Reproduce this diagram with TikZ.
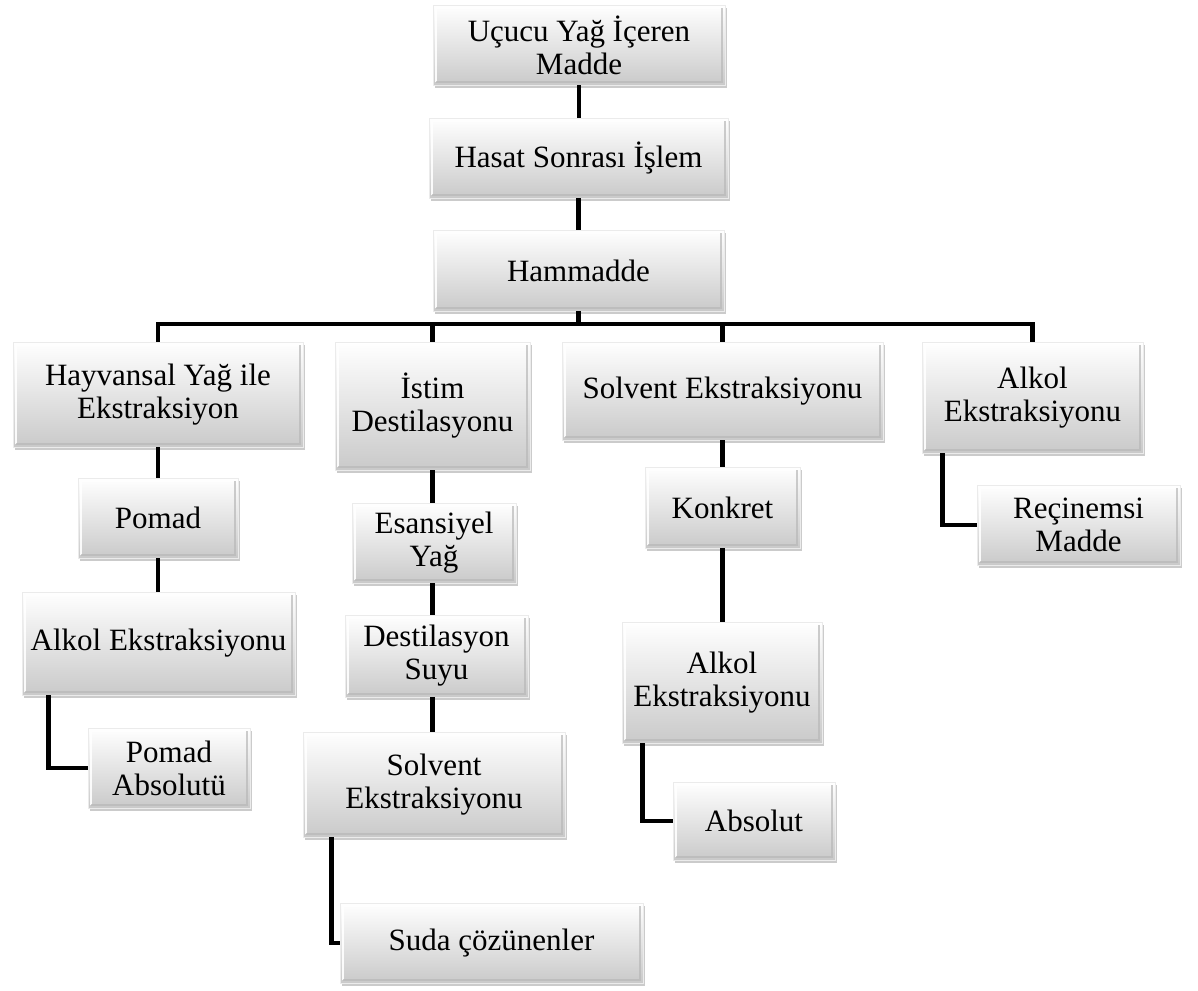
\documentclass[tikz,border=0pt]{standalone}
\usepackage{fontspec}
\setmainfont{Liberation Serif}
\usetikzlibrary{shadows}
\begin{document}
\begin{tikzpicture}[x=1pt,y=-1pt,
  box/.style={rectangle, inner sep=0pt, align=center,
    top color=white, bottom color=black!21,
    draw=black!8, line width=0.6pt,
    drop shadow={shadow xshift=2pt, shadow yshift=-3pt, fill=black!45, opacity=0.45},
    font=\fontsize{31}{33}\selectfont,
    path picture={
      \draw[white, line width=2.5pt, opacity=0.9]
        ([xshift=3pt,yshift=3pt]path picture bounding box.south west) |-
        ([xshift=-3pt,yshift=-3pt]path picture bounding box.north east);
      \draw[black!28, line width=2.5pt, opacity=0.7]
        ([xshift=3pt,yshift=3pt]path picture bounding box.south west) -|
        ([xshift=-3pt,yshift=-3pt]path picture bounding box.north east);
    }},
  conn/.style={line width=4.5pt, black}]
\fill[white] (0,0) rectangle (1198,990);
\useasboundingbox (0,0) rectangle (1198,990);

% top trunk
\node[box, minimum width=292pt, minimum height=80pt] (top) at (579,45) {Uçucu Yağ İçeren\\Madde};
\node[box, minimum width=299pt, minimum height=80pt] (hasat) at (578.5,158) {Hasat Sonrası İşlem};
\node[box, minimum width=291pt, minimum height=81pt] (ham) at (578.5,270.5) {Hammadde};

% level 2
\node[box, minimum width=290pt, minimum height=105pt] (hay) at (158,394.5) {Hayvansal Yağ ile\\Ekstraksiyon};
\node[box, minimum width=195pt, minimum height=128pt] (istim) at (432.5,406) {İstim\\Destilasyonu};
\node[box, minimum width=321pt, minimum height=98pt] (solv) at (722.5,391) {Solvent Ekstraksiyonu};
\node[box, minimum width=221pt, minimum height=111pt] (alk) at (1032.5,397.5) {Alkol\\Ekstraksiyonu};

% Hayvansal column
\node[box, minimum width=160pt, minimum height=80pt] (pomad) at (158,518) {Pomad};
\node[box, minimum width=273pt, minimum height=103pt] (alkA) at (158.5,643.5) {Alkol Ekstraksiyonu};
\node[box, minimum width=162pt, minimum height=80pt] (pabs) at (169,768) {Pomad\\Absolutü};

% Istim column
\node[box, minimum width=164pt, minimum height=80pt] (esans) at (434,543) {Esansiyel\\Yağ};
\node[box, minimum width=183pt, minimum height=82pt] (dsuyu) at (436.5,656) {Destilasyon\\Suyu};
\node[box, minimum width=262pt, minimum height=105pt] (solvB) at (434,784.5) {Solvent\\Ekstraksiyonu};
\node[box, minimum width=303pt, minimum height=80pt] (suda) at (491.5,943) {Suda çözünenler};

% Solvent column
\node[box, minimum width=155pt, minimum height=81pt] (konk) at (722.5,507.5) {Konkret};
\node[box, minimum width=200pt, minimum height=121pt] (alkC) at (722,682.5) {Alkol\\Ekstraksiyonu};
\node[box, minimum width=162pt, minimum height=78pt] (abs) at (754,821) {Absolut};

% Alkol column
\node[box, minimum width=203pt, minimum height=80pt] (recin) at (1078.5,525) {Reçinemsi\\Madde};

\coordinate (bar) at (578,324);

% connectors
\draw[conn] (top.south) -- (top.south |- hasat.north);
\draw[conn] (hasat.south) -- (hasat.south |- ham.north);
\draw[conn] (ham.south) -- (ham.south |- bar);
\draw[conn] (hay.north) -- (hay.north |- bar) -- (alk.north |- bar) -- (alk.north);
\draw[conn] (istim.north) -- (istim.north |- bar);
\draw[conn] (solv.north) -- (solv.north |- bar);

\draw[conn] (hay.south) -- (hay.south |- pomad.north);
\draw[conn] (pomad.south) -- (pomad.south |- alkA.north);
\draw[conn] ([xshift=27pt]alkA.south west) |- (pabs.west);

\draw[conn] (istim.south) -- (istim.south |- esans.north);
\draw[conn] (istim.south |- esans.south) -- (istim.south |- dsuyu.north);
\draw[conn] (istim.south |- dsuyu.south) -- (istim.south |- solvB.north);
\draw[conn] ([xshift=29pt]solvB.south west) |- (suda.west);

\draw[conn] (solv.south) -- (solv.south |- konk.north);
\draw[conn] (solv.south |- konk.south) -- (solv.south |- alkC.north);
\draw[conn] ([xshift=21pt]alkC.south west) |- (abs.west);

\draw[conn] ([xshift=21pt]alk.south west) |- (recin.west);
\end{tikzpicture}
\end{document}
